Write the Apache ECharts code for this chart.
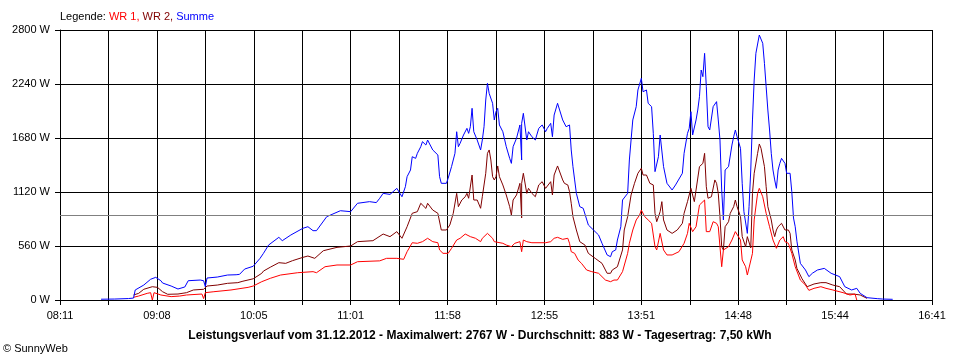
<!DOCTYPE html>
<html><head><meta charset="utf-8">
<script src="https://cdn.jsdelivr.net/npm/echarts@6/dist/echarts.min.js"></script>
<style>html,body{margin:0;padding:0;background:#fff}#c{width:960px;height:360px}</style>
</head><body><div id="c"></div>
<script>
const tickLabels = ['08:11','09:08','10:05','11:01','11:58','12:55','13:51','14:48','15:44','16:41'];
const avgValue = 883;
const titleText = 'Leistungsverlauf vom 31.12.2012 - Maximalwert: 2767 W - Durchschnitt: 883 W - Tagesertrag: 7,50 kWh';

const sumData = [
['08:35',8],['08:43',10],['08:51',15],['08:54',20],['08:55',104],['09:00',155],['09:04',215],['09:07',235],['09:10',200],['09:11',176],['09:16',145],['09:20',114],['09:24',135],['09:26',200],['09:33',207],['09:35',200],['09:36',138],['09:37',228],['09:43',238],['09:49',259],['09:54',262],['09:56',266],['09:59',321],
['10:04',350],['10:08',432],['10:10',484],['10:13',570],['10:19',650],['10:21',615],['10:26',674],['10:33',743],['10:36',760],['10:39',719],['10:41',719],['10:47',864],['10:55',926],
['11:01',916],['11:05',1003],['11:12',1020],['11:16',1010],['11:18',1055],['11:20',1106],['11:21',1113],['11:24',1095],['11:28',1158],['11:29',1175],['11:31',1071],['11:33',1175],['11:34',1279],['11:36',1348],['11:37',1486],['11:39',1469],['11:40',1521],['11:42',1590],['11:43',1642],['11:45',1607],['11:46',1659],['11:49',1556],['11:52',1504],['11:53',1279],['11:54',1210],['11:57',1210],['11:58',1262],
['12:00',1383],['12:02',1521],['12:03',1745],['12:04',1590],['12:05',1625],['12:07',1711],['12:09',1780],['12:10',1728],['12:11',1797],['12:12',1988],['12:13',1745],['12:15',1659],['12:17',1556],['12:18',1659],['12:19',1797],['12:20',2074],['12:21',2247],['12:22',2143],['12:24',2040],['12:25',1867],['12:26',1953],['12:27',1988],['12:28',1815],['12:30',1745],['12:32',1590],['12:34',1469],['12:35',1417],['12:36',1590],['12:38',1677],['12:39',1677],['12:40',1815],['12:41',1452],['12:41',1832],['12:42',1936],['12:44',1659],['12:45',1745],['12:47',1693],['12:49',1659],['12:51',1780],['12:53',1815],['12:55',1745],['12:56',1780],['12:58',1832],['12:59',1693],
['13:00',1918],['13:02',2040],['13:05',1867],['13:06',1849],['13:07',1797],['13:09',1815],['13:10',1556],['13:11',1383],['13:12',1245],['13:13',1106],['13:15',968],['13:17',951],['13:18',968],['13:20',778],['13:23',726],['13:26',674],['13:28',588],['13:31',467],['13:33',449],['13:34',501],['13:36',519],['13:37',622],['13:39',760],['13:40',1037],['13:43',1106],['13:44',1452],['13:45',1659],['13:46',1867],['13:48',2005],['13:49',2178],['13:51',2299],['13:52',2160],['13:54',2178],['13:55',2040],['13:57',2005],['13:58',1728],['13:59',1331],
['14:01',1486],['14:02',1711],['14:03',1711],['14:04',1383],['14:06',1210],['14:09',1141],['14:11',1193],['14:12',1210],['14:15',1314],['14:16',1521],['14:18',1728],['14:19',1780],['14:20',1953],['14:21',1711],['14:23',1867],['14:24',1970],['14:25',2108],['14:26',2385],['14:27',2316],['14:28',2558],['14:29',2212],['14:30',1797],['14:31',1763],['14:32',1780],['14:33',2005],['14:35',2057],['14:36',1867],['14:37',1659],['14:38',1141],['14:39',830],['14:40',1348],['14:42',1383],['14:44',1607],['14:45',1693],['14:46',1763],['14:47',1693],['14:49',1573],['14:50',1210],['14:51',916],['14:52',899],['14:53',691],['14:54',968],['14:55',1348],['14:56',1867],['14:57',2281],['14:58',2558],
['15:00',2748],['15:01',2765],['15:02',2662],['15:03',2454],['15:04',2212],['15:05',1970],['15:06',1763],['15:07',1521],['15:08',1348],['15:09',1245],['15:10',1158],['15:11',1348],['15:12',1417],['15:13',1469],['15:14',1486],['15:15',1417],['15:16',1314],['15:17',1331],['15:18',1314],['15:19',1123],['15:20',850],['15:21',760],['15:22',610],['15:24',380],['15:27',311],['15:29',242],['15:31',277],['15:34',311],['15:38',328],['15:42',277],['15:47',242],['15:50',138],['15:54',104],['15:57',121],['15:59',69],
['16:03',24],['16:09',14],['16:12',10],['16:18',7]
];

const wr2Data = [
['08:54',52],['08:57',69],['09:00',111],['09:05',138],['09:08',131],['09:11',86],['09:14',59],['09:20',62],['09:25',76],['09:29',104],['09:35',111],['09:37',145],['09:43',155],['09:49',173],['09:55',180],['09:58',195],
['10:04',220],['10:09',277],['10:10',300],['10:14',340],['10:19',387],['10:23',380],['10:27',408],['10:33',442],['10:36',456],['10:40',432],['10:45',511],['10:53',546],
['11:01',560],['11:05',605],['11:14',615],['11:20',684],['11:21',691],['11:24',657],['11:28',709],['11:31',640],['11:34',760],['11:37',899],['11:40',916],['11:42',1003],['11:43',1020],['11:45',950],['11:46',1003],['11:49',933],['11:52',899],['11:54',726],['11:57',726],['11:59',778],
['12:01',899],['12:03',1106],['12:04',968],['12:06',1037],['12:08',1071],['12:09',1106],['12:10',1055],['12:12',1296],['12:13',1037],['12:15',1037],['12:17',951],['12:18',1071],['12:20',1314],['12:21',1521],['12:22',1556],['12:23',1452],['12:24',1279],['12:25',1245],['12:26',1279],['12:27',1390],['12:28',1279],['12:30',1193],['12:32',1089],['12:34',968],['12:35',881],['12:36',1037],['12:38',1089],['12:39',1106],['12:40',1210],['12:41',851],['12:41',1210],['12:42',1314],['12:44',1106],['12:45',1158],['12:47',1106],['12:49',1071],['12:51',1193],['12:53',1227],['12:55',1158],['12:56',1175],['12:58',1227],['12:59',1089],
['13:00',1296],['13:02',1390],['13:05',1245],['13:06',1210],['13:08',1193],['13:09',1123],['13:10',1003],['13:11',864],['13:13',726],['13:15',605],['13:18',570],['13:20',484],['13:24',432],['13:28',380],['13:31',277],['13:33',277],['13:34',311],['13:37',345],['13:40',519],['13:41',726],['13:43',864],['13:45',1089],['13:47',1210],['13:49',1314],['13:51',1366],['13:52',1296],['13:54',1296],['13:56',1210],['13:58',1193],['13:59',899],
['14:00',812],['14:02',916],['14:03',1020],['14:04',830],['14:06',726],['14:09',691],['14:12',726],['14:15',795],['14:16',899],['14:18',1020],['14:20',1158],['14:22',1020],['14:23',1141],['14:25',1383],['14:27',1417],['14:28',1521],['14:29',1175],['14:30',1055],['14:32',1071],['14:34',1245],['14:35',1210],['14:36',1106],['14:37',864],['14:38',553],['14:39',519],['14:40',760],['14:42',812],['14:43',899],['14:45',968],['14:46',1037],['14:47',968],['14:49',864],['14:50',657],['14:52',553],['14:53',657],['14:55',540],['14:56',1106],['14:57',1314],['14:59',1521],
['15:00',1618],['15:01',1573],['15:03',1383],['15:04',1175],['15:05',968],['15:07',830],['15:08',726],['15:09',657],['15:10',726],['15:11',760],['15:13',795],['15:14',812],['15:15',726],['15:17',726],['15:18',691],['15:19',519],['15:21',415],['15:22',328],['15:25',220],['15:28',138],['15:32',166],['15:36',180],['15:39',180],['15:43',155],['15:47',138],['15:51',62],['15:55',62],['15:59',52],
['16:03',17]
];

const wr1Data = [
['08:54',28],['08:57',41],['09:02',69],['09:04',76],['09:05',0],['09:06',76],['09:10',52],['09:16',35],['09:21',41],['09:25',52],['09:34',62],['09:35',15],['09:36',76],['09:41',86],['09:51',104],
['10:01',131],['10:04',145],['10:09',190],['10:14',225],['10:20',259],['10:30',283],['10:39',294],['10:41',283],['10:46',345],['10:53',363],
['11:01',363],['11:05',397],['11:18',406],['11:22',432],['11:28',432],['11:32',422],['11:34',501],['11:37',594],['11:40',588],['11:43',605],['11:46',640],['11:49',605],['11:52',594],['11:53',519],['11:55',484],['11:58',484],
['12:00',536],['12:03',622],['12:05',640],['12:08',684],['12:11',657],['12:14',640],['12:17',605],['12:18',640],['12:21',691],['12:24',640],['12:25',605],['12:30',588],['12:32',570],['12:35',553],['12:37',588],['12:40',605],['12:41',501],['12:42',622],['12:44',605],['12:47',594],['12:55',594],['12:58',605],
['13:00',640],['13:02',650],['13:05',629],['13:08',640],['13:09',588],['13:10',501],['13:12',484],['13:14',415],['13:16',380],['13:19',311],['13:22',294],['13:26',277],['13:30',207],['13:33',190],['13:35',207],['13:37',207],['13:40',294],['13:43',484],['13:44',588],['13:46',726],['13:48',830],['13:50',881],['13:51',933],['13:53',864],['13:55',830],['13:57',795],['13:59',553],
['14:00',519],['14:02',691],['14:03',674],['14:04',519],['14:06',467],['14:09',467],['14:13',501],['14:16',588],['14:18',691],['14:19',795],['14:21',709],['14:23',760],['14:25',985],['14:28',1037],['14:29',709],['14:31',709],['14:33',812],['14:35',795],['14:36',760],['14:37',553],['14:38',345],['14:39',519],['14:42',553],['14:44',622],['14:46',709],['14:49',622],['14:50',415],['14:52',345],['14:53',259],['14:56',484],['14:57',830],['14:59',1106],
['15:00',1158],['15:02',1071],['15:04',899],['15:06',760],['15:08',622],['15:10',536],['15:12',622],['15:14',657],['15:15',605],['15:17',588],['15:19',484],['15:21',345],['15:24',207],['15:27',155],['15:29',100],['15:32',121],['15:36',138],['15:39',121],['15:43',104],['15:49',76],['15:53',52],['15:56',62],['15:57',0]
];

// axis runs from first to last tick label, split into 18 grid steps
function toMin(t){const p=t.split(':');return (+p[0])*60+(+p[1]);}
const START = toMin(tickLabels[0]);
const END = toMin(tickLabels[tickLabels.length-1]);
const STEPS = (tickLabels.length-1)*2;
const STEP = (END-START)/STEPS;
function build(d){return d.map(r=>[(toMin(r[0])-START)/STEP, r[1]]);}

const FONT = '"Liberation Sans", Arial, sans-serif';
const chart = echarts.init(document.getElementById('c'), null, {renderer:'canvas'});
chart.setOption({
  animation:false,
  backgroundColor:'#ffffff',
  textStyle:{fontFamily:FONT},
  grid:{left:60, top:30, width:872, height:270, containLabel:false},
  title:[
    {text:'{k|Legende: }{a|WR 1, }{b|WR 2, }{c|Summe}', left:60, top:11, padding:0,
     textStyle:{fontWeight:'normal', fontSize:11, rich:{
       k:{color:'#000000', fontSize:11, fontWeight:'normal', fontFamily:FONT},
       a:{color:'#ff0000', fontSize:11, fontWeight:'normal', fontFamily:FONT},
       b:{color:'#800000', fontSize:11, fontWeight:'normal', fontFamily:FONT},
       c:{color:'#0000ff', fontSize:11, fontWeight:'normal', fontFamily:FONT}}}},
    {text:titleText, left:'center', top:330, padding:0,
     textStyle:{color:'#000', fontSize:12, fontWeight:'bold', fontFamily:FONT}},
    {text:'© SunnyWeb', left:3, top:343, padding:0,
     textStyle:{color:'#000', fontSize:11, fontWeight:'normal', fontFamily:FONT}}
  ],
  xAxis:{type:'value', min:0, max:STEPS, interval:1,
    axisLine:{show:true, lineStyle:{color:'#000', width:1}},
    axisTick:{show:true, length:5, lineStyle:{color:'#000'}},
    splitLine:{show:true, lineStyle:{color:'#000', width:1}},
    axisLabel:{color:'#000', fontSize:11, fontFamily:FONT, margin:10, showMinLabel:true, showMaxLabel:true,
      formatter:v=>{const i=Math.round(v); return i%2===0 ? tickLabels[i/2] : '';}}},
  yAxis:{type:'value', min:0, max:2800, interval:560,
    axisLine:{show:true, lineStyle:{color:'#000', width:1}},
    axisTick:{show:true, length:5, lineStyle:{color:'#000'}},
    splitLine:{show:true, lineStyle:{color:'#000', width:1}},
    axisLabel:{color:'#000', fontSize:11, fontFamily:FONT, margin:10, formatter:v=>String(Math.round(v))+' W'}},
  series:[
    {type:'line', name:'avg', data:[], silent:true, z:1,
     markLine:{silent:true, symbol:['none','none'], label:{show:false},
       lineStyle:{color:'#808080', width:1, type:'solid'}, data:[{yAxis:avgValue}]}},
    {type:'line', name:'WR 2', data:build(wr2Data), showSymbol:false, z:2,
     lineStyle:{color:'#800000', width:1}, itemStyle:{color:'#800000'}},
    {type:'line', name:'WR 1', data:build(wr1Data), showSymbol:false, z:3,
     lineStyle:{color:'#ff0000', width:1}, itemStyle:{color:'#ff0000'}},
    {type:'line', name:'Summe', data:build(sumData), showSymbol:false, z:4,
     lineStyle:{color:'#0000ff', width:1}, itemStyle:{color:'#0000ff'}}
  ]
});
</script></body></html>
